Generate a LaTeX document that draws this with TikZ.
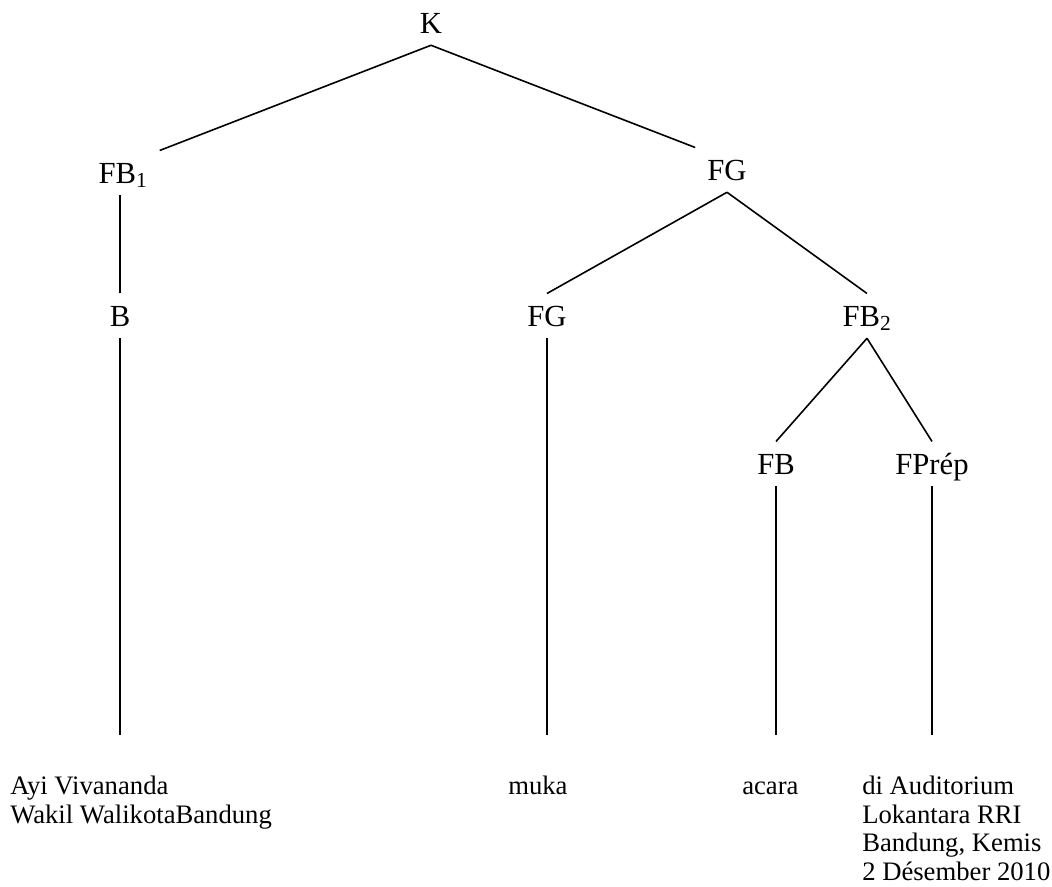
\documentclass[tikz,border=0pt]{standalone}
\usepackage{fontspec}
\setmainfont{Liberation Serif}

\tikzset{
  cat/.style={font=\fontsize{23}{27}\selectfont, anchor=base, inner sep=9pt,
    text height=15.2pt, text depth=0pt},
  leaf/.style={font=\fontsize{20}{21.4}\selectfont, align=left,
    anchor=north west, inner sep=0pt},
  branch/.style={line width=1.2pt},
  stem/.style={line width=1.2pt, shorten >=31pt}
}

\begin{document}
\begin{tikzpicture}[x=0.75pt,y=-0.75pt]
    \useasboundingbox (0,0) rectangle (1052,886);

    % kategori
    \node[cat] (k) at (431,33) {K};
    \node[cat] (fb1) at (123,183) {FB\textsubscript{1}};
    \node[cat] (fg) at (727,180) {FG};
    \node[cat] (b) at (120,326) {B};
    \node[cat] (fgb) at (547,326) {FG};
    \node[cat] (fb2) at (867,326) {FB\textsubscript{2}};
    \node[cat] (fb) at (776,474) {FB};
    \node[cat] (fprep) at (932,474) {FPrép};

    % kecap
    \node[leaf] (ayi) at (10,776) {Ayi Vivananda\\Wakil WalikotaBandung};
    \node[leaf, text height=13.7pt] (muka) at (508,776) {muka};
    \node[leaf, text height=13.7pt] (acara) at (742,776) {acara};
    \node[leaf] (dia) at (862,776) {di Auditorium\\Lokantara RRI\\Bandung, Kemis\\2 Désember 2010};

    \draw[branch] (k.south) -- (fb1.north east);
    \draw[branch] (k.south) -- (fg.north west);
    \draw[branch] (fg.south) -- (fgb.north);
    \draw[branch] (fg.south) -- (fb2.north);
    \draw[branch] (fb2.south) -- (fb.north);
    \draw[branch] (fb2.south) -- (fprep.north);
    \draw[branch] (b.north) -- (b.north |- fb1.south);

    \draw[stem] (b.south) -- (b.south |- ayi.north);
    \draw[stem] (fgb.south) -- (fgb.south |- muka.north);
    \draw[stem] (fb.south) -- (fb.south |- acara.north);
    \draw[stem] (fprep.south) -- (fprep.south |- dia.north);
\end{tikzpicture}
\end{document}
